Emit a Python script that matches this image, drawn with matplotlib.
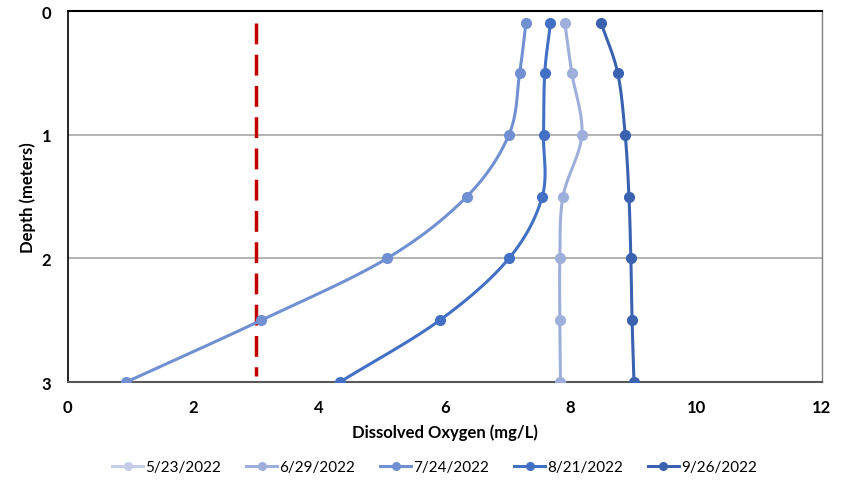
import numpy as np
import matplotlib
matplotlib.use("Agg")
import matplotlib.pyplot as plt
from matplotlib.lines import Line2D

plt.rcParams['font.family'] = ['Lato', 'DejaVu Sans']

dates = ["5/23/2022", "6/29/2022", "7/24/2022", "8/21/2022", "9/26/2022"]
depths = [0.1, 0.5, 1.0, 1.5, 2.0, 2.5, 3.0]
do_5_23 = []
do_6_29 = [7.91, 8.02, 8.18, 7.88, 7.83, 7.83, 7.84]
do_7_24 = [7.29, 7.19, 7.02, 6.35, 5.08, 3.08, 0.93]
do_8_21 = [7.68, 7.59, 7.57, 7.55, 7.02, 5.92, 4.33]
do_9_26 = [8.49, 8.75, 8.87, 8.93, 8.96, 8.98, 9.01]
threshold = 3.0
threshold_depth = [0.1, 2.95]

series = [do_5_23, do_6_29, do_7_24, do_8_21, do_9_26]
colors = ["#C5CDE9", "#9DAFDA", "#7090D2", "#4270C4", "#3A62B0"]


def catmull(xs, ys, n=20):
    pts = np.column_stack([xs, ys]).astype(float)
    if len(pts) < 3:
        return pts[:, 0], pts[:, 1]
    p = np.vstack([2 * pts[0] - pts[1], pts, 2 * pts[-1] - pts[-2]])
    out = []
    for i in range(1, len(p) - 2):
        p0, p1, p2, p3 = p[i - 1], p[i], p[i + 1], p[i + 2]
        t = np.linspace(0, 1, n, endpoint=False)[:, None]
        c = 0.5 * ((2 * p1) + (-p0 + p2) * t + (2 * p0 - 5 * p1 + 4 * p2 - p3) * t ** 2
                   + (-p0 + 3 * p1 - 3 * p2 + p3) * t ** 3)
        out.append(c)
    out.append(pts[-1][None, :])
    out = np.vstack(out)
    return out[:, 0], out[:, 1]


fig = plt.figure(figsize=(8.49, 4.81), dpi=100)
ax = fig.add_axes([0.080, 0.2037, 0.888, 0.7713])

ax.plot([threshold, threshold], threshold_depth, color="#C00000", lw=2.5,
        dashes=(6, 3), zorder=2)

handles = []
for vals, col, lab in zip(series, colors, dates):
    if len(vals):
        sx, sy = catmull(vals, depths[:len(vals)])
        ax.plot(sx, sy, color=col, lw=2.2, zorder=3, solid_capstyle='round')
        ax.plot(vals, depths[:len(vals)], 'o', color=col, ms=7, zorder=4)
    handles.append(Line2D([0], [0], color=col, lw=2.2, marker='o', ms=5.5, label=lab))

ax.set_xlim(0, 12)
ax.set_ylim(3, 0)
ax.set_xticks(range(0, 13, 2))
ax.set_yticks([0, 1, 2, 3])
ax.yaxis.grid(True, color="#A6A6A6", lw=1.2)
ax.set_axisbelow(True)
ax.tick_params(length=0, labelsize=12)
ax.tick_params(axis='x', pad=12)
ax.tick_params(axis='y', pad=12)
for lbl in ax.get_xticklabels() + ax.get_yticklabels():
    lbl.set_fontweight('bold')
ax.spines['right'].set_color('#808080')
ax.spines['right'].set_linewidth(1.0)
ax.spines['top'].set_color('black')
ax.spines['top'].set_linewidth(1.5)
ax.spines['left'].set_color('black')
ax.spines['left'].set_linewidth(1.2)
ax.spines['bottom'].set_color('#595959')
ax.spines['bottom'].set_linewidth(1.5)

ax.set_xlabel("Dissolved Oxygen (mg/L)", fontsize=12, fontweight='bold', labelpad=6)
ax.set_ylabel("Depth (meters)", fontsize=12, fontweight='bold')
ax.yaxis.set_label_coords(-0.043, 0.5)

fig.legend(handles=handles, loc='center', bbox_to_anchor=(0.512, 0.027), ncol=5,
           frameon=False, fontsize=11, handlelength=2.0, columnspacing=1.65,
           handletextpad=0.15)

fig.savefig("out.png", dpi=100)
